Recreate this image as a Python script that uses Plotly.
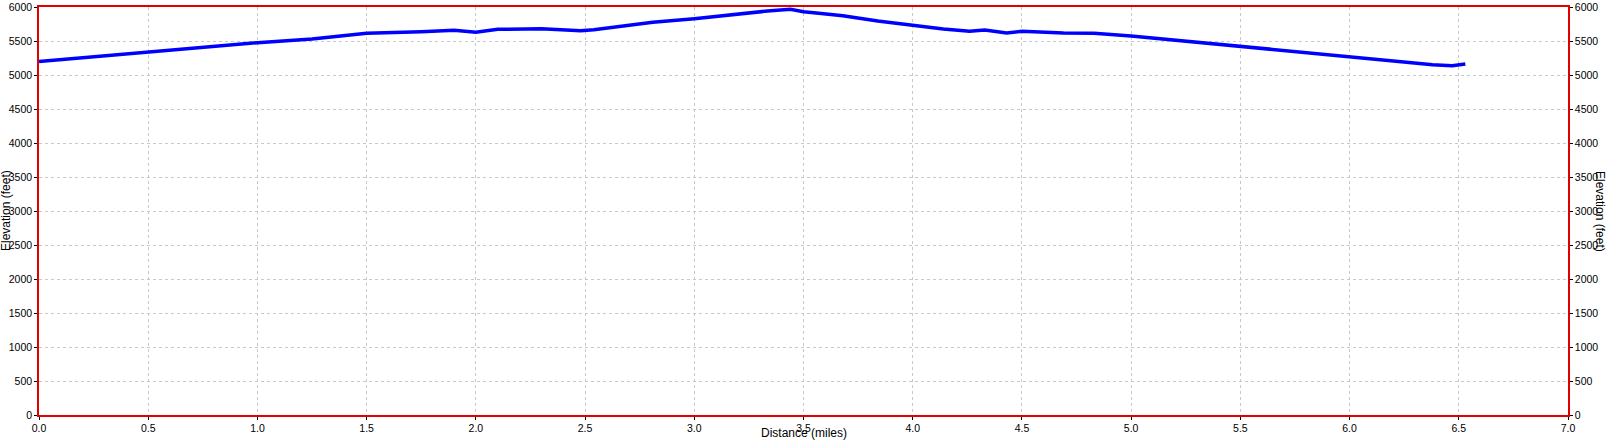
import plotly.graph_objects as go

# elevation profile
distance_mi = [0.0, 0.25, 0.5, 0.75, 1.0, 1.25, 1.5, 1.75, 1.9, 2.0, 2.1, 2.3,
               2.48, 2.54, 2.66, 2.81, 3.0, 3.2, 3.35, 3.44, 3.5, 3.57, 3.68,
               3.84, 4.0, 4.14, 4.26, 4.33, 4.43, 4.5, 4.69, 4.83, 5.0, 5.16,
               5.32, 5.5, 5.7, 6.0, 6.23, 6.38, 6.47, 6.53]
elevation_ft = [5200, 5269, 5334, 5410, 5475, 5530, 5613, 5637, 5657, 5628,
                5672, 5681, 5652, 5666, 5716, 5775, 5828, 5902, 5946, 5966,
                5931, 5907, 5872, 5794, 5730, 5676, 5642, 5662, 5618, 5642,
                5618, 5613, 5574, 5525, 5471, 5417, 5358, 5269, 5191, 5152,
                5137, 5162]

x_ticks = [0.0, 0.5, 1.0, 1.5, 2.0, 2.5, 3.0, 3.5, 4.0, 4.5, 5.0, 5.5, 6.0, 6.5, 7.0]
y_ticks = list(range(0, 6001, 500))

font = dict(family='Liberation Sans, Arial, sans-serif', size=12, color='black')
tick_font = dict(font, size=10.5)

fig = go.Figure()
fig.add_trace(go.Scatter(
    x=distance_mi, y=elevation_ft,
    mode='lines',
    line=dict(color='#0000ff', width=3.5),
    showlegend=False,
    hoverinfo='skip'
))
# same profile on the right-hand axis so it gets drawn
fig.add_trace(go.Scatter(
    x=distance_mi, y=elevation_ft,
    mode='lines',
    line=dict(color='rgba(0,0,0,0)', width=0),
    yaxis='y2',
    showlegend=False,
    hoverinfo='skip'
))

axis_common = dict(
    showline=True, linecolor='#e00000', linewidth=1.5,
    ticks='outside', ticklen=3, tickcolor='black', tickwidth=1,
    showgrid=True, gridcolor='#c8c8c8', griddash='3px,3px', gridwidth=1,
    zeroline=False, tickfont=tick_font, automargin=False, ticklabelstandoff=0,
)

fig.update_layout(
    width=1608, height=440,
    margin=dict(l=39, r=40, t=7, b=25, autoexpand=False),
    paper_bgcolor='white',
    plot_bgcolor='white',
    font=font,
    xaxis=dict(axis_common, range=[0, 7], tickvals=x_ticks,
               ticktext=[f'{v:.1f}' for v in x_ticks], mirror=True),
    yaxis=dict(axis_common, range=[0, 6000], tickvals=y_ticks),
    yaxis2=dict(axis_common, range=[0, 6000], tickvals=y_ticks, side='right',
                overlaying='y', showgrid=False),
    annotations=[
        dict(text='Distance (miles)', x=0.5, y=0, xref='paper', yref='paper',
             yshift=-18, showarrow=False, font=font, xanchor='center', yanchor='middle'),
        dict(text='Elevation (feet)', x=0, y=0.5, xref='paper', yref='paper',
             xshift=-42, textangle=-90, showarrow=False, font=font,
             xanchor='left', yanchor='middle'),
        dict(text='Elevation (feet)', x=1, y=0.5, xref='paper', yref='paper',
             xshift=41, textangle=90, showarrow=False, font=font,
             xanchor='right', yanchor='middle'),
    ],
)

# page body has a default 8px margin, drop it so the chart sits at the corner
fig.write_html('out.html', config={'displayModeBar': False},
               post_script="document.body.style.margin='0';")
